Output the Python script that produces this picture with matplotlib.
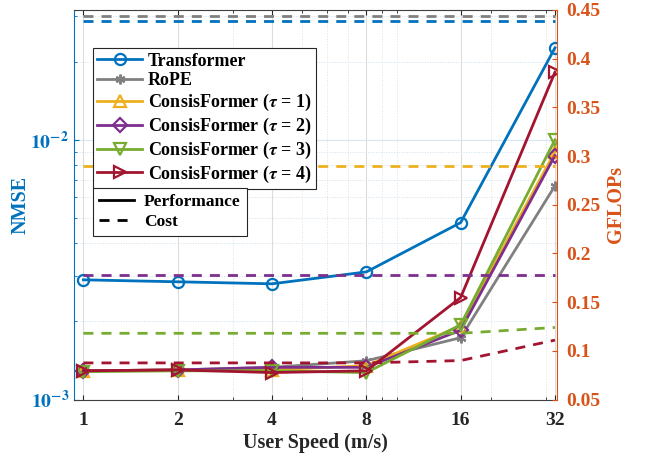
import matplotlib.pyplot as plt
import numpy as np
from matplotlib.lines import Line2D
from matplotlib.ticker import FixedLocator, NullFormatter

plt.rcParams['font.family'] = ['Liberation Serif', 'DejaVu Serif']
plt.rcParams['font.weight'] = 'bold'
plt.rcParams['mathtext.fontset'] = 'stix'

speeds = [1, 2, 4, 8, 16, 32]

# NMSE (left axis, solid)
nmse_transformer = [2.89e-3, 2.84e-3, 2.79e-3, 3.10e-3, 4.80e-3, 2.26e-2]
nmse_rope = [1.29e-3, 1.30e-3, 1.33e-3, 1.41e-3, 1.73e-3, 6.65e-3]
nmse_tau1 = [1.29e-3, 1.30e-3, 1.30e-3, 1.35e-3, 1.92e-3, 9.0e-3]
nmse_tau2 = [1.29e-3, 1.30e-3, 1.33e-3, 1.33e-3, 1.85e-3, 8.7e-3]
nmse_tau3 = [1.28e-3, 1.29e-3, 1.29e-3, 1.27e-3, 1.94e-3, 1.00e-2]
nmse_tau4 = [1.29e-3, 1.30e-3, 1.27e-3, 1.29e-3, 2.47e-3, 1.82e-2]

# GFLOPs (right axis, dashed)
cost_transformer = [0.439, 0.439, 0.439, 0.439, 0.439, 0.439]
cost_rope = [0.444, 0.444, 0.444, 0.444, 0.444, 0.444]
cost_tau1 = [0.290, 0.290, 0.290, 0.290, 0.290, 0.290]
cost_tau2 = [0.178, 0.178, 0.178, 0.178, 0.178, 0.178]
cost_tau3 = [0.118, 0.118, 0.118, 0.118, 0.118, 0.124]
cost_tau4 = [0.0876, 0.0876, 0.0876, 0.0876, 0.090, 0.111]

labels = ['Transformer', 'RoPE',
          r'ConsisFormer ($\tau$ = 1)', r'ConsisFormer ($\tau$ = 2)',
          r'ConsisFormer ($\tau$ = 3)', r'ConsisFormer ($\tau$ = 4)']
colors = ['#0072BD', '#808080', '#EDB120', '#7E2F8E', '#77AC30', '#A2142F']
markers = ['o', (6, 2, 0), '^', 'D', 'v', '>']
msizes = [8, 7, 9, 7, 9, 9]
nmse_all = [nmse_transformer, nmse_rope, nmse_tau1, nmse_tau2, nmse_tau3, nmse_tau4]
cost_all = [cost_transformer, cost_rope, cost_tau1, cost_tau2, cost_tau3, cost_tau4]

left_c = '#0072BD'
right_c = '#D95319'

fig = plt.figure(figsize=(6.49, 4.54), dpi=100)
ax = fig.add_axes([0.114, 0.12, 0.744, 0.858])
ax2 = ax.twinx()

ax.set_xscale('log', base=2)
ax.set_yscale('log')

for c, y in zip(colors, cost_all):
    ax2.plot(speeds, y, color=c, lw=2, dashes=(3.6, 2.9))

handles = []
for lab, c, m, ms, y in zip(labels, colors, markers, msizes, nmse_all):
    h, = ax.plot(speeds, y, color=c, lw=2, marker=m, ms=ms,
                 mfc='none', mec=c, mew=1.6, label=lab)
    handles.append(h)

ax.set_xlim(2 ** -0.1, 2 ** 5.02)
ax.set_ylim(1e-3, 10 ** -1.5)
ax2.set_ylim(0.05, 0.45)

ax.set_xticks(speeds)
ax.set_xticklabels([str(s) for s in speeds])
ax.xaxis.set_minor_locator(FixedLocator([3, 5, 6, 7, 9, 10, 20, 30]))
ax.xaxis.set_minor_formatter(NullFormatter())

ax.set_yticks([1e-3, 1e-2])
ax.set_yticklabels([r'$\mathbf{10^{-3}}$', r'$\mathbf{10^{-2}}$'])
ax.yaxis.set_minor_locator(FixedLocator([2e-3, 3e-3, 4e-3, 5e-3, 6e-3, 7e-3,
                                         8e-3, 9e-3, 2e-2, 3e-2]))
ax.yaxis.set_minor_formatter(NullFormatter())

r_ticks = np.arange(0.05, 0.451, 0.05)
ax2.set_yticks(r_ticks)
ax2.set_yticklabels(['%g' % round(t, 2) for t in r_ticks])

ax.grid(True, which='major', axis='x', color='#dcdcdc', lw=0.8)
ax.grid(True, which='minor', axis='x', color='#e0e0e0', lw=0.7, ls=':')
ax.grid(True, which='major', axis='y', color='#d6e6f2', lw=0.8)
ax.grid(True, which='minor', axis='y', color='#cfe2f0', lw=0.7, ls=':')

ax.tick_params(axis='x', which='both', direction='in', colors='#262626',
               labelsize=14, top=True, pad=9)
ax.tick_params(axis='y', which='both', direction='in', colors=left_c,
               labelsize=14)
ax2.tick_params(axis='y', which='both', direction='in', colors=right_c,
                labelsize=14, pad=7)
for t in ax.get_xticklabels():
    t.set_fontweight('bold')
for t in ax2.get_yticklabels():
    t.set_fontweight('bold')

ax.spines['left'].set_color(left_c)
ax.spines['right'].set_visible(False)
ax.spines['top'].set_color('#404040')
ax.spines['bottom'].set_color('#404040')
ax2.spines['right'].set_color(right_c)
ax2.spines['left'].set_visible(False)
ax2.spines['top'].set_visible(False)
ax2.spines['bottom'].set_visible(False)

ax.set_xlabel('User Speed (m/s)', fontsize=14.5, fontweight='bold', color='#262626',
              labelpad=3)
ax.set_ylabel('NMSE', fontsize=14.5, fontweight='bold', color=left_c, labelpad=0)
ax2.set_ylabel('GFLOPs', fontsize=14.5, fontweight='bold', color=right_c, labelpad=4)

leg1 = ax2.legend(handles=handles, loc='upper left',
                  bbox_to_anchor=(0.039, 0.902), fontsize=13,
                  frameon=True, fancybox=False, edgecolor='#262626',
                  framealpha=1, handlelength=2.5, handletextpad=0.3,
                  borderpad=0.25, labelspacing=0.15, borderaxespad=0)
leg1.get_frame().set_linewidth(0.8)
for t in leg1.get_texts():
    t.set_fontweight('bold')
ax2.add_artist(leg1)

style_handles = [Line2D([], [], color='black', lw=2),
                 Line2D([], [], color='black', lw=2, dashes=(3.6, 2.9))]
leg2 = ax2.legend(style_handles, ['Performance', 'Cost'], loc='upper left',
                  bbox_to_anchor=(0.039, 0.543), fontsize=12.5,
                  frameon=True, fancybox=False, edgecolor='#262626',
                  framealpha=1, handlelength=2.0, handletextpad=0.6,
                  borderpad=0.35, labelspacing=0.2, borderaxespad=0)
leg2.get_frame().set_linewidth(0.8)
for t in leg2.get_texts():
    t.set_fontweight('bold')
leg1.set_zorder(10)
leg2.set_zorder(10)

fig.savefig('out.png', dpi=100)
